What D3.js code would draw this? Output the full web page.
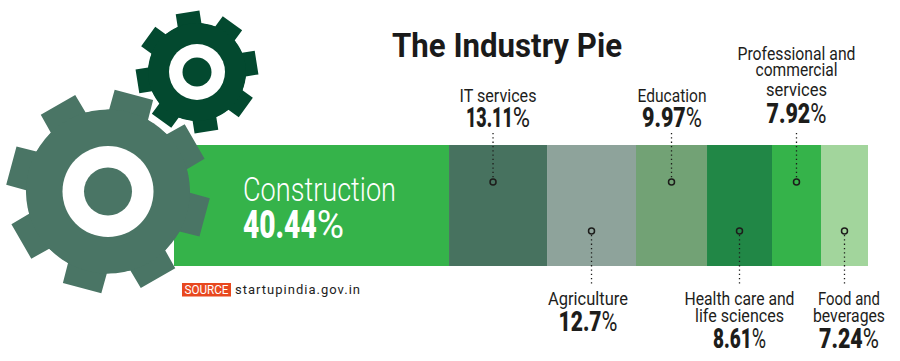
<!DOCTYPE html>
<html><head><meta charset="utf-8">
<script src="https://cdn.jsdelivr.net/npm/d3@7"></script>
<style>html,body{margin:0;background:#fff}svg{display:block}</style></head>
<body><svg id="c" width="900" height="361"></svg>
<script>
const categories = ["Construction","IT services","Agriculture","Education","Health care and life sciences","Professional and commercial services","Food and beverages"];
const percentLabels = ["40.44","13.11","12.7","9.97","8.61","7.92","7.24"];
// lengths of the bars (the original is not drawn strictly to scale)
const barLengths = [38.73,13.8,12.53,10,9.15,6.9,6.62];
const barColors = ["#35b34a","#47725f","#8ea39b","#72a275","#218746","#35b34a","#a2d59c"];
const labelLines = [["Construction"],["IT services"],["Agriculture"],["Education"],["Health care and","life sciences"],["Professional and","commercial","services"],["Food and","beverages"]];

const svg = d3.select("#c");
const NARROW = "Roboto,sans-serif";
const W=[0];barLengths.forEach(v=>W.push(W[W.length-1]+v));
const x = d3.scaleLinear().domain([0,d3.sum(barLengths)]).range([174,868]);
const y0=145,y1=266;
svg.append("g").selectAll("rect").data(categories).join("rect")
 .attr("x",(d,i)=>x(W[i])).attr("width",(d,i)=>x(W[i+1])-x(W[i]))
 .attr("y",y0).attr("height",y1-y0).attr("fill",(d,i)=>barColors[i]);

function gear(cx,cy,rOut,rRoot,teeth,offsetDeg,rHole,rCore,color){
  const pts=[],step=2*Math.PI/teeth,off=offsetDeg*Math.PI/180;
  const a1=0.25*step,a2=0.315*step;
  for(let k=0;k<teeth;k++){
    const c=off+k*step;
    [[rRoot,-a2],[rOut,-a1],[rOut,a1],[rRoot,a2]].forEach(([r,a])=>pts.push([cx+r*Math.cos(c+a),cy+r*Math.sin(c+a)]));
  }
  const g=svg.append("g");
  const p=d3.path();
  pts.forEach((q,i)=>{ if(!i)p.moveTo(q[0],q[1]); else p.lineTo(q[0],q[1]);});
  p.closePath();
  g.append("path").attr("d",p.toString()).attr("fill",color);
  g.append("circle").attr("cx",cx).attr("cy",cy).attr("r",rRoot).attr("fill",color);
  g.append("circle").attr("cx",cx).attr("cy",cy).attr("r",rHole).attr("fill","#fff");
  g.append("circle").attr("cx",cx).attr("cy",cy).attr("r",rCore).attr("fill",color);
}
gear(197,72,61.5,49,8,-9,28,14.5,"#03492f");
gear(108,191.5,102,82,8,-30,45.5,24,"#4a7565");

svg.append("text").attr("x",507).attr("y",57).attr("text-anchor","middle")
 .attr("font-family","Roboto,sans-serif").attr("font-weight",700).attr("font-size",33).attr("fill","#1a1a1a")
 .attr("textLength",230).attr("lengthAdjust","spacingAndGlyphs").text("The Industry Pie");

// value and its lighter percent sign, as two adjoining texts
function pctText(g,left,base,width,size,v,fill){
  const pw=width*0.27, dw=width-pw;
  g.append("text").attr("x",left).attr("y",base).attr("font-family",NARROW).attr("font-size",size).attr("font-weight",900)
   .attr("fill",fill).attr("textLength",dw).attr("lengthAdjust","spacingAndGlyphs").text(v);
  g.append("text").attr("x",left+dw).attr("y",base).attr("font-family",NARROW).attr("font-size",size).attr("font-weight",400)
   .attr("fill",fill).attr("textLength",pw).attr("lengthAdjust","spacingAndGlyphs").text("%");
}
const big=svg.append("g");
big.append("text").attr("x",243).attr("y",201).attr("font-family",NARROW).attr("fill","#fff").attr("font-size",34).attr("font-weight",300).attr("textLength",153).attr("lengthAdjust","spacingAndGlyphs").text(labelLines[0][0]);
pctText(big,243,238,101,39,percentLabels[0],"#fff");

const layout={
 1:{dir:"up",dx:-5,tx:498,base:[102],pct:127,w:[77],pw:64},
 2:{dir:"down",dx:0,tx:588,base:[305],pct:331,w:[80],pw:59},
 3:{dir:"up",dx:0,tx:672,base:[102],pct:127,w:[69],pw:60},
 4:{dir:"down",dx:0,tx:739.5,base:[305,322],pct:348,w:[110,89],pw:53},
 5:{dir:"up",dx:0,tx:796.5,base:[60,76,96],pct:123,w:[118,82,61],pw:60},
 6:{dir:"down",dx:0,tx:849,base:[305,322],pct:348,w:[62,72],pw:60}
};
const ink="#1d1d1b";
const cg=svg.append("g");
d3.range(1,7).forEach(i=>{
  const L=layout[i],cx=(x(W[i])+x(W[i+1]))/2+L.dx;
  const up=L.dir==="up",cy=up?182:231;
  cg.append("line").attr("x1",cx).attr("x2",cx).attr("y1",up?133:cy+4).attr("y2",up?cy-4:284)
    .attr("stroke",ink).attr("stroke-width",1.3).attr("stroke-dasharray","1.3 3");
  cg.append("circle").attr("cx",cx).attr("cy",cy).attr("r",3).attr("fill","none").attr("stroke",ink).attr("stroke-width",1.5);
  labelLines[i].forEach((t,j)=>{
    cg.append("text").attr("x",L.tx).attr("y",L.base[j]).attr("text-anchor","middle")
      .attr("font-family",NARROW).attr("font-size",19).attr("fill",ink)
      .attr("textLength",L.w[j]).attr("lengthAdjust","spacingAndGlyphs").text(t);
  });
  pctText(cg,L.tx-L.pw/2,L.pct,L.pw,28,percentLabels[i],ink);
});

svg.append("rect").attr("x",182).attr("y",283).attr("width",49).attr("height",13.5).attr("fill","#e8481f");
svg.append("text").attr("x",206.5).attr("y",294).attr("text-anchor","middle").attr("font-family","Roboto,sans-serif")
  .attr("font-size",12).attr("fill","#fff").attr("textLength",44).attr("lengthAdjust","spacingAndGlyphs").text("SOURCE");
svg.append("text").attr("x",235).attr("y",294).attr("font-family","Roboto,sans-serif").attr("font-size",13)
  .attr("fill","#222").attr("textLength",125).attr("lengthAdjust","spacing").text("startupindia.gov.in");
</script></body></html>
